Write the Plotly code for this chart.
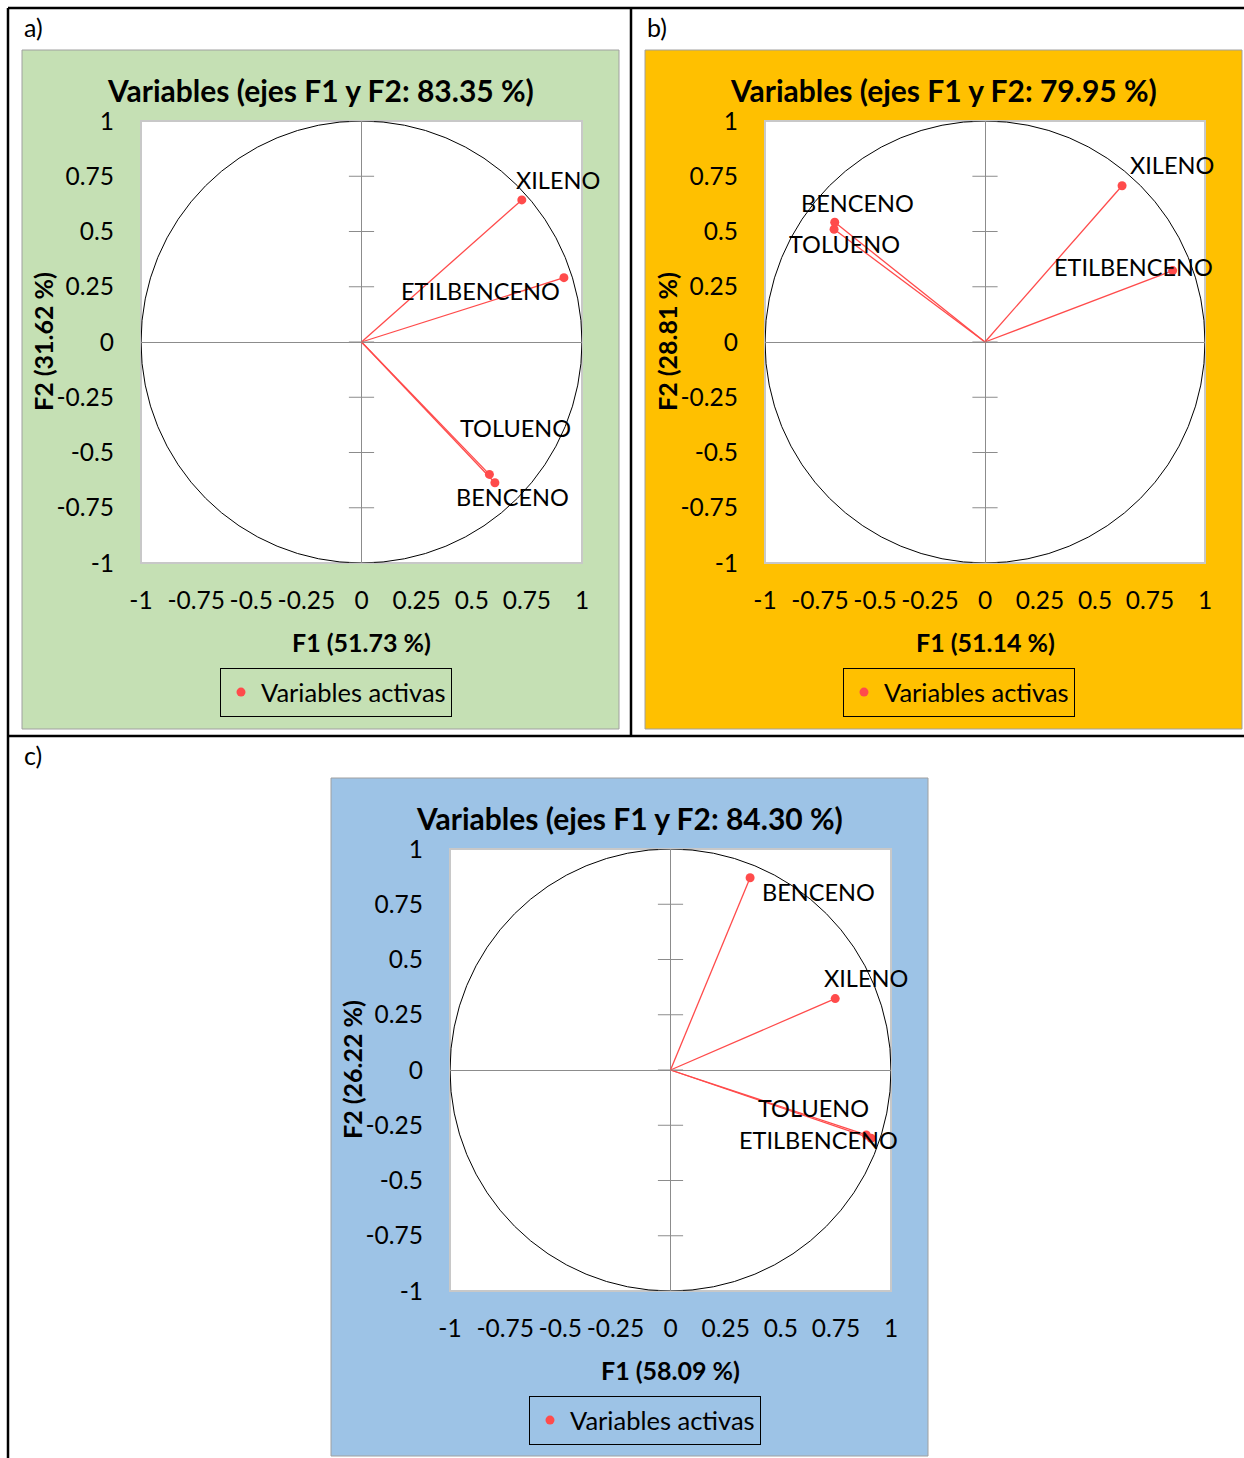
import plotly.graph_objects as go

W, H = 1244, 1458
FONT = "Lato"
RED = "#FF4B4B"
AXIS_GREY = "#8C8C8C"

# ---- data: correlations of each variable with factors F1 and F2 ----
variables_a = ["XILENO", "ETILBENCENO", "TOLUENO", "BENCENO"]
f1_a = [0.727, 0.918, 0.580, 0.605]
f2_a = [0.643, 0.291, -0.599, -0.637]

variables_b = ["XILENO", "ETILBENCENO", "TOLUENO", "BENCENO"]
f1_b = [0.623, 0.853, -0.686, -0.683]
f2_b = [0.707, 0.323, 0.510, 0.542]

variables_c = ["XILENO", "ETILBENCENO", "TOLUENO", "BENCENO"]
f1_c = [0.747, 0.910, 0.888, 0.361]
f2_c = [0.323, -0.309, -0.294, 0.870]

titles = ["Variables (ejes F1 y F2: 83.35 %)",
          "Variables (ejes F1 y F2: 79.95 %)",
          "Variables (ejes F1 y F2: 84.30 %)"]
x_titles = ["F1 (51.73 %)", "F1 (51.14 %)", "F1 (58.09 %)"]
y_titles = ["F2 (31.62 %)", "F2 (28.81 %)", "F2 (26.22 %)"]
panel_tags = ["a)", "b)", "c)"]

tick_vals = [-1, -0.75, -0.5, -0.25, 0, 0.25, 0.5, 0.75, 1]
tick_text = ["-1", "-0.75", "-0.5", "-0.25", "0", "0.25", "0.5", "0.75", "1"]

legend_name = "Variables activas"


def px_x(p):
    return p / W


def px_y(p):
    return 1 - p / H


# ---- layout geometry (pixels) ----
panels = [
    dict(bg="#C5E0B4", box=(22, 50, 619, 729), plot=(141, 121, 582, 563), tag=(22, 28)),
    dict(bg="#FFC000", box=(645, 50, 1242, 729), plot=(765, 121, 1205, 563), tag=(645, 28)),
    dict(bg="#9DC3E6", box=(331, 778, 928, 1456), plot=(450, 849, 891, 1291), tag=(22, 756)),
]

# label offsets (dx, dy in px, y downward) relative to each point
label_shift = [
    {"XILENO": (36, -20), "ETILBENCENO": (-83, 13), "TOLUENO": (26, -46), "BENCENO": (18, 14)},
    {"XILENO": (50, -21), "ETILBENCENO": (-39, -4), "TOLUENO": (10, 15), "BENCENO": (23, -19)},
    {"XILENO": (31, -21), "ETILBENCENO": (-53, 2), "TOLUENO": (-53, -27), "BENCENO": (68, 14)},
]

datasets = [(variables_a, f1_a, f2_a), (variables_b, f1_b, f2_b), (variables_c, f1_c, f2_c)]

fig = go.Figure()
shapes = []
annotations = []
layout_axes = {}

for i, (panel, (names, xs, ys)) in enumerate(zip(panels, datasets)):
    n = "" if i == 0 else str(i + 1)
    xa, ya = "x" + n, "y" + n
    leg = "legend" + n
    bx0, by0, bx1, by1 = panel["box"]
    px0, py0, px1, py1 = panel["plot"]

    # panel background
    shapes.append(dict(type="rect", xref="paper", yref="paper", layer="below",
                       x0=px_x(bx0), x1=px_x(bx1), y0=px_y(by1), y1=px_y(by0),
                       fillcolor=panel["bg"], line=dict(color="#A0A0A0", width=1)))
    # white plotting area
    shapes.append(dict(type="rect", xref="paper", yref="paper", layer="below",
                       x0=px_x(px0), x1=px_x(px1), y0=px_y(py1), y1=px_y(py0),
                       fillcolor="white", line=dict(color="#C8C8C8", width=2)))
    # correlation circle
    shapes.append(dict(type="circle", xref=xa, yref=ya, layer="below",
                       x0=-1, x1=1, y0=-1, y1=1,
                       line=dict(color="black", width=1)))

    # vectors from origin
    lx, ly = [], []
    for x, y in zip(xs, ys):
        lx += [0, x, None]
        ly += [0, y, None]
    fig.add_trace(go.Scatter(x=lx, y=ly, xaxis=xa, yaxis=ya, mode="lines",
                             line=dict(color=RED, width=1.3), showlegend=False,
                             hoverinfo="skip"))
    # tick marks along the vertical axis
    fig.add_trace(go.Scatter(x=[0] * len(tick_vals), y=tick_vals, xaxis=xa, yaxis=ya,
                             mode="markers",
                             marker=dict(symbol="line-ew", size=18,
                                         line=dict(color=AXIS_GREY, width=1)),
                             showlegend=False, hoverinfo="skip"))
    # variable points
    fig.add_trace(go.Scatter(x=xs, y=ys, xaxis=xa, yaxis=ya, mode="markers",
                             marker=dict(color=RED, size=9), name=legend_name,
                             legend=leg, showlegend=True, text=names))

    dom_x = [px_x(px0), px_x(px1)]
    dom_y = [px_y(py1), px_y(py0)]
    common = dict(range=[-1, 1], showgrid=False, zeroline=True, zerolinecolor=AXIS_GREY,
                  zerolinewidth=1, showline=False, ticks="", tickmode="array",
                  tickvals=tick_vals, ticktext=tick_text, fixedrange=True,
                  automargin=False,
                  tickfont=dict(family=FONT, size=24.5, color="black"))
    layout_axes["xaxis" + n] = dict(common, domain=dom_x, anchor=ya, ticklabelstandoff=20)
    layout_axes["yaxis" + n] = dict(common, domain=dom_y, anchor=xa, ticklabelstandoff=26)

    # legend box
    layout_axes[leg] = dict(x=px_x(bx0 + 198), y=px_y(by0 + 618), xanchor="left", yanchor="top",
                            bgcolor="rgba(0,0,0,0)", bordercolor="black", borderwidth=1,
                            font=dict(family=FONT, size=25.5, color="black"))

    cx = (bx0 + bx1) / 2
    # chart title
    annotations.append(dict(text="<b>%s</b>" % titles[i], xref="paper", yref="paper",
                            x=px_x(cx), y=px_y(by0 + 40), xanchor="center", yanchor="middle",
                            showarrow=False, font=dict(family=FONT, size=30, color="black")))
    # axis titles
    annotations.append(dict(text="<b>%s</b>" % x_titles[i], xref="paper", yref="paper",
                            x=px_x((px0 + px1) / 2), y=px_y(py1 + 79), xanchor="center",
                            yanchor="middle", showarrow=False,
                            font=dict(family=FONT, size=25, color="black")))
    annotations.append(dict(text="<b>%s</b>" % y_titles[i], xref="paper", yref="paper",
                            x=px_x(px0 - 98), y=px_y((py0 + py1) / 2), xanchor="center",
                            yanchor="middle", textangle=-90, showarrow=False,
                            font=dict(family=FONT, size=25, color="black")))
    # panel tag
    tx, ty = panel["tag"]
    annotations.append(dict(text=panel_tags[i], xref="paper", yref="paper",
                            x=px_x(tx), y=px_y(ty - 1), xanchor="left", yanchor="middle",
                            showarrow=False, font=dict(family=FONT, size=25, color="black")))
    # point labels
    for name, x, y in zip(names, xs, ys):
        dx, dy = label_shift[i][name]
        annotations.append(dict(text=name, xref=xa, yref=ya, x=x, y=y,
                                xshift=dx, yshift=-dy, xanchor="center", yanchor="middle",
                                showarrow=False,
                                font=dict(family=FONT, size=23.5, color="black")))

# table-style frame lines
frame = [(8, 8, W, 8), (8, 8, 8, H), (631, 8, 631, 736), (8, 736, W, 736)]
for x0, y0, x1, y1 in frame:
    shapes.append(dict(type="line", xref="paper", yref="paper", layer="above",
                       x0=px_x(x0), x1=px_x(x1), y0=px_y(y0), y1=px_y(y1),
                       line=dict(color="black", width=2.5)))

fig.update_layout(width=W, height=H, margin=dict(l=0, r=0, t=0, b=0, pad=0, autoexpand=False),
                  paper_bgcolor="white", plot_bgcolor="rgba(0,0,0,0)",
                  shapes=shapes, annotations=annotations, hovermode="closest",
                  **layout_axes)

# the page body carries a default margin; remove it so the figure fills the window
fig.write_html("out.html", post_script="document.body.style.margin='0';")
